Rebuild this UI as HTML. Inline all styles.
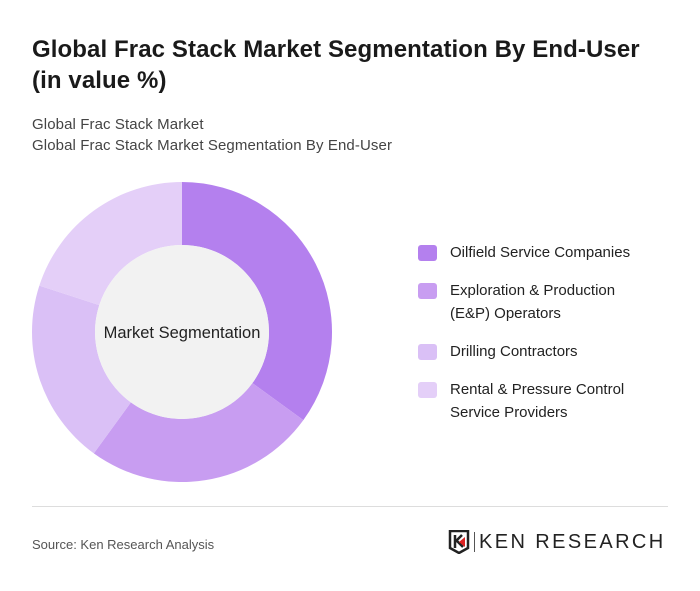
<!DOCTYPE html>
<html><head><meta charset="utf-8"><style>
body{margin:0;width:700px;height:591px;background:#fff;font-family:"Liberation Sans",sans-serif;position:relative;overflow:hidden}
.t{position:absolute;left:32px;top:34px;font-size:24px;font-weight:bold;color:#1a1a1a;line-height:31px;letter-spacing:0.1px}
.s{position:absolute;left:32px;top:114px;font-size:15px;color:#444;line-height:21px;letter-spacing:0.1px}
.leg{position:absolute;left:418px;font-size:15px;color:#222;line-height:23px}
.sw{position:absolute;left:0;top:4px;width:19px;height:16px;border-radius:3px}
.lt{margin-left:32px}
.hr{position:absolute;left:32px;top:506px;width:636px;height:1px;background:#ddd}
.src{position:absolute;left:32px;top:537px;font-size:13px;color:#555}
</style></head><body>
<div class="t">Global Frac Stack Market Segmentation By End-User<br>(in value %)</div>
<div class="s">Global Frac Stack Market<br>Global Frac Stack Market Segmentation By End-User</div>
<svg id="ch" width="700" height="591" style="position:absolute;left:0;top:0"></svg>
<div id="legend"></div>
<div class="hr"></div>
<div class="src">Source: Ken Research Analysis</div>
<div style="position:absolute;left:448px;top:530px;width:220px;height:24px">
<svg width="22" height="24" style="position:absolute;left:0;top:0"><path d="M2 1h18v17l-9 5-9-5z" fill="none" stroke="#222" stroke-width="2.5"/><path d="M7 5v13M7 12l7-7M9 11l6 6" stroke="#222" stroke-width="2.5" fill="none"/><path d="M11 12l6-5v10z" fill="#d22"/></svg>
<div style="position:absolute;left:26px;top:2px;width:1px;height:20px;background:#555"></div>
<div style="position:absolute;left:31px;top:1px;font-size:20px;letter-spacing:2.4px;color:#222;white-space:nowrap">KEN RESEARCH</div>
</div>
<script>
const categories=["Oilfield Service Companies","Exploration & Production (E&P) Operators","Drilling Contractors","Rental & Pressure Control Service Providers"];
const values=[35,25,20,20];
const colors=["#b480ee","#c89df1","#dac0f6","#e4cff8"];
const legendLines=[["Oilfield Service Companies"],["Exploration & Production","(E&P) Operators"],["Drilling Contractors"],["Rental & Pressure Control","Service Providers"]];
const legendTops=[241,279,340,378];
const svg=document.getElementById('ch');const NS="http://www.w3.org/2000/svg";
const cx=182,cy=332,R=150,r=87;
const tot=values.reduce((a,b)=>a+b,0);
let a0=0;
function pt(a,rad){return [cx+rad*Math.sin(a),cy-rad*Math.cos(a)];}
values.forEach((v,i)=>{
 const a1=a0+v/tot*2*Math.PI;const lg=(a1-a0)>Math.PI?1:0;
 const p1=pt(a0,R),p2=pt(a1,R),p3=pt(a1,r),p4=pt(a0,r);
 const p=document.createElementNS(NS,'path');
 p.setAttribute('d',`M${p1}A${R},${R} 0 ${lg} 1 ${p2}L${p3}A${r},${r} 0 ${lg} 0 ${p4}Z`);
 p.setAttribute('fill',colors[i]);
 
 
 svg.appendChild(p);a0=a1;
});
const c=document.createElementNS(NS,'circle');c.setAttribute('cx',cx);c.setAttribute('cy',cy);c.setAttribute('r',r);c.setAttribute('fill','#f2f2f2');


svg.appendChild(c);
const t=document.createElementNS(NS,'text');t.setAttribute('x',cx);t.setAttribute('y',cy+6);t.setAttribute('text-anchor','middle');t.setAttribute('font-size','16.5');t.setAttribute('fill','#222');t.setAttribute('font-family','Liberation Sans, sans-serif');t.textContent='Market Segmentation';


svg.appendChild(t);
const lg=document.getElementById('legend');
categories.forEach((cat,i)=>{
 const d=document.createElement('div');d.className='leg';d.style.top=legendTops[i]+'px';
 
 
 d.innerHTML=`<div class="sw" style="background:${colors[i]}"></div><div class="lt">${legendLines[i].join('<br>').replace(/&(?!amp;)/g,'&amp;')}</div>`;
 lg.appendChild(d);
});
</script>
</body></html>
